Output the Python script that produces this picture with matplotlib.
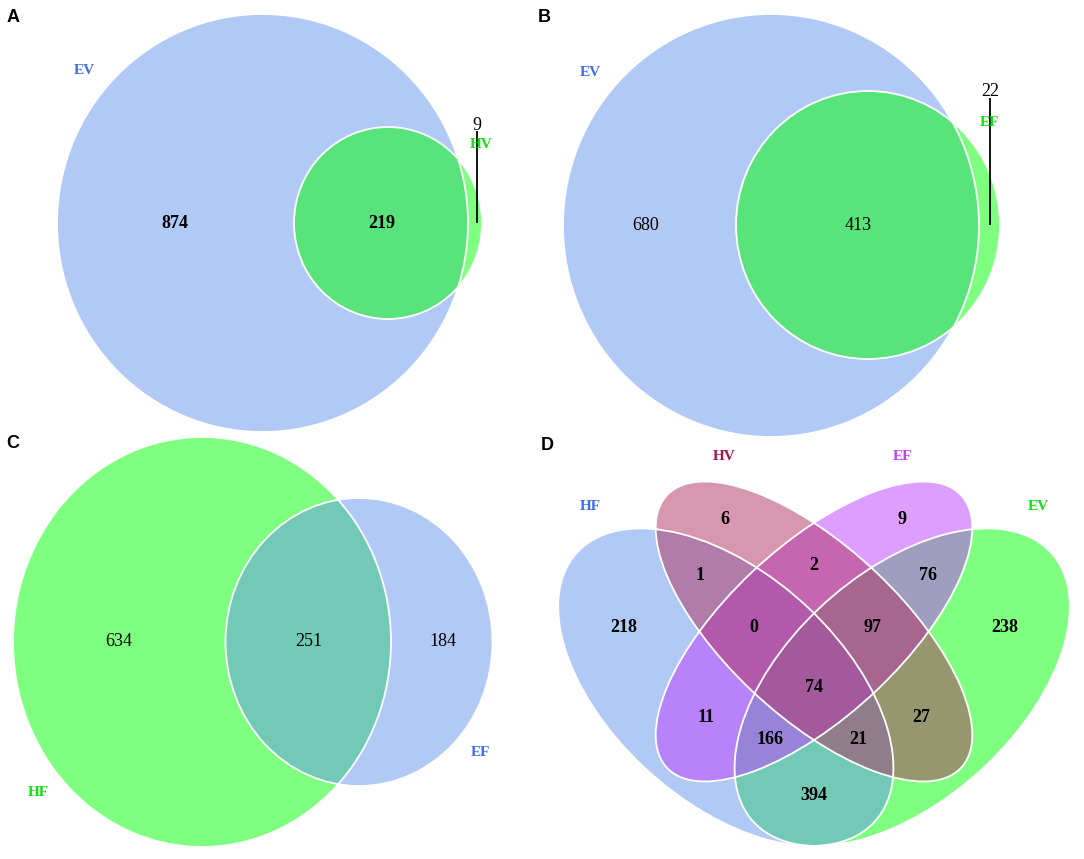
import matplotlib
matplotlib.use("Agg")
import matplotlib.pyplot as plt
from matplotlib.patches import Ellipse
from matplotlib.colors import to_rgba
from matplotlib.transforms import Affine2D

# ---------------- data ----------------
a_sets = ["EV", "HV"]
a_counts = [874, 219, 9]          # EV only, EV&HV, HV only
b_sets = ["EV", "EF"]
b_counts = [680, 413, 22]         # EV only, EV&EF, EF only
c_sets = ["HF", "EF"]
c_counts = [634, 251, 184]        # HF only, HF&EF, EF only
d_sets = ["HF", "HV", "EF", "EV"]
d_regions = ["HV", "EF", "HF&HV", "HV&EF", "EF&EV", "HF", "HF&HV&EF",
             "HV&EF&EV", "EV", "HF&HV&EF&EV", "HF&EF", "HV&EV",
             "HF&EF&EV", "HF&HV&EV", "HF&EV"]
d_counts = [6, 9, 1, 2, 76, 218, 0, 97, 238, 74, 11, 27, 166, 21, 394]

# ---------------- style ----------------
BLUE, GREEN, MAROON, ORCHID = "#6495ED", "#00FF00", "#B03060", "#BF3EFF"
LBL = {"blue": "#3f6fe6", "green": "#10e010", "maroon": "#a3174a", "orchid": "#c23cff"}
SERIF = ["Liberation Serif", "DejaVu Serif"]
SANS = ["Liberation Sans", "DejaVu Sans"]
NUM_FS, CAT_FS, LET_FS = 13, 11, 13
EDGE_LW = 1.3

W, H = 1084, 859
fig = plt.figure(figsize=(W / 100, H / 100), dpi=100)
ax = fig.add_axes([0, 0, 1, 1])
ax.set_xlim(0, W)
ax.set_ylim(H, 0)
ax.axis("off")


def draw_shapes(shapes, transform=None):
    tr = ax.transData if transform is None else transform + ax.transData
    for (cx, cy, w, h, ang, col) in shapes:
        ax.add_patch(Ellipse((cx, cy), w, h, angle=ang, facecolor=to_rgba(col, 0.5),
                             edgecolor="none", transform=tr))
    for (cx, cy, w, h, ang, col) in shapes:
        ax.add_patch(Ellipse((cx, cy), w, h, angle=ang, fill=False,
                             edgecolor="white", lw=EDGE_LW, transform=tr))


def num(x, y, v, bold=False):
    ax.text(x, y, str(v), ha="center", va="center", fontsize=NUM_FS,
            family=SERIF, fontweight="bold" if bold else "normal", color="black")


def cat(x, y, s, col):
    ax.text(x, y, s, ha="center", va="center", fontsize=CAT_FS,
            family=SERIF, fontweight="bold", color=col)


def letter(x, y, s):
    ax.text(x, y, s, ha="center", va="center", fontsize=LET_FS,
            family=SANS, fontweight="bold", color="black")


# ---------------- panel A ----------------
draw_shapes([(262.5, 223, 411, 418, 0, BLUE),
             (388, 223, 188, 192, 0, GREEN)])
num(175, 223, a_counts[0], bold=True)
num(382, 223, a_counts[1], bold=True)
ax.plot([477, 477], [131, 223], color="black", lw=1.3, solid_capstyle="butt")
num(477, 126, a_counts[2])
cat(84, 71, a_sets[0], LBL["blue"])
cat(481, 144, a_sets[1], LBL["green"])
letter(13, 18, "A")

# ---------------- panel B ----------------
draw_shapes([(771, 225.5, 416, 423, 0, BLUE),
             (868, 225, 264, 268, 0, GREEN)])
num(646, 226, b_counts[0])
num(858, 226, b_counts[1])
ax.plot([990, 990], [98, 225], color="black", lw=1.3, solid_capstyle="butt")
num(990, 91, b_counts[2])
cat(590, 72, b_sets[0], LBL["blue"])
cat(989.5, 123, b_sets[1], LBL["green"])
letter(544, 18, "B")

# ---------------- panel C ----------------
draw_shapes([(202, 642, 378, 410, 0, GREEN),
             (359, 642, 267, 288, 0, BLUE)])
num(119, 642, c_counts[0])
num(309, 642, c_counts[1])
num(443, 642, c_counts[2])
cat(38, 792, c_sets[0], LBL["green"])
cat(480, 752, c_sets[1], LBL["blue"])
letter(13, 443, "C")

# ---------------- panel D (4-set ellipse Venn) ----------------
unit = Affine2D().translate(-0.5, -0.57).scale(588, -557).translate(814, 631.5)
draw_shapes([(0.65, 0.47, 0.70, 0.40, 45, GREEN),    # EV
             (0.35, 0.47, 0.70, 0.40, 135, BLUE),    # HF
             (0.50, 0.57, 0.70, 0.30, 45, ORCHID),   # EF
             (0.50, 0.57, 0.70, 0.30, 135, MAROON)], # HV
            transform=unit)

d_pos = {
    "HV": (725, 519), "EF": (902.5, 519), "HF&HV": (700, 576), "HV&EF": (814, 565),
    "EF&EV": (927.5, 576), "HF": (624, 627), "HF&HV&EF": (754, 627),
    "HV&EF&EV": (873, 627), "EV": (1005, 627), "HF&HV&EF&EV": (814, 688),
    "HF&EF": (706.5, 717), "HV&EV": (921.6, 717), "HF&EF&EV": (769.6, 739),
    "HF&HV&EV": (858.5, 739), "HF&EV": (814, 796),
}
for reg, cnt in zip(d_regions, d_counts):
    x, y = d_pos[reg]
    num(x, y, cnt, bold=True)

d_cat_pos = {"HF": (590, 507), "HV": (724, 457), "EF": (902.5, 457), "EV": (1038, 507)}
d_cat_col = {"HF": LBL["blue"], "HV": LBL["maroon"], "EF": LBL["orchid"], "EV": LBL["green"]}
for s in d_sets:
    cat(*d_cat_pos[s], s, d_cat_col[s])
letter(547, 445, "D")

fig.savefig("out.png", dpi=100)
